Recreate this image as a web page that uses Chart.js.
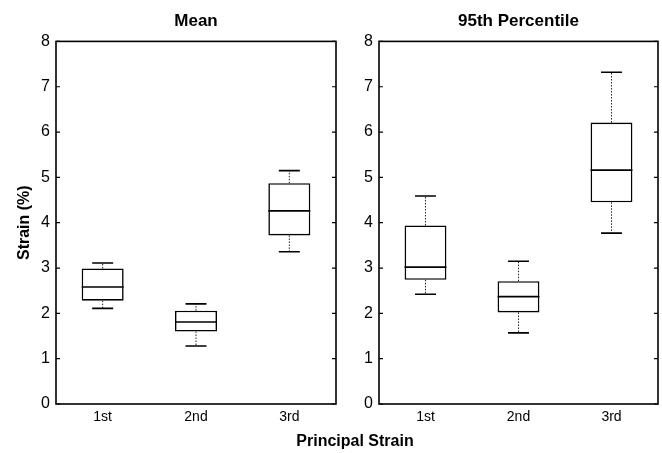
<!DOCTYPE html>
<html>
<head>
<meta charset="utf-8">
<script src="https://cdn.jsdelivr.net/npm/chart.js@4"></script>
<style>
  body { margin: 0; background: #fff; }
  #wrap { position: relative; width: 662px; height: 453px; overflow: hidden; }
  #leftChart { position: absolute; left: 0; top: 0; }
  #rightChart { position: absolute; left: 340px; top: 0; }
  #xTitle {
    position: absolute; left: 255px; width: 200px; top: 432px;
    text-align: center; font: bold 16px "Liberation Sans", Arial, sans-serif; color: #000;
  }
</style>
</head>
<body>
<div id="wrap">
  <canvas id="leftChart" width="340" height="453"></canvas>
  <canvas id="rightChart" width="322" height="453"></canvas>
  <div id="xTitle">Principal Strain</div>
</div>
<script>
const categories = ["1st", "2nd", "3rd"];

// Mean panel (box stats per principal strain)
const meanLow = [2.11, 1.28, 3.36];
const meanQ1 = [2.28, 1.60, 3.72];
const meanMedian = [2.58, 1.81, 4.26];
const meanQ3 = [2.99, 2.06, 4.87];
const meanHigh = [3.11, 2.21, 5.15];

// 95th percentile panel
const pctLow = [2.42, 1.57, 3.77];
const pctQ1 = [2.74, 2.02, 4.45];
const pctMedian = [3.02, 2.37, 5.16];
const pctQ3 = [3.94, 2.71, 6.21];
const pctHigh = [4.59, 3.15, 7.32];

const yMin = 0;
const yMax = 8;

const FONT = "'Liberation Sans', Arial, sans-serif";

// draws median, whiskers, frame and inner ticks using the chart's scales
const boxPlugin = {
  id: "boxExtras",
  afterDatasetsDraw(chart) {
    const ctx = chart.ctx;
    const ds = chart.data.datasets[0];
    const meta = chart.getDatasetMeta(0);
    const x = chart.scales.x;
    const y = chart.scales.y;
    ctx.save();
    ctx.strokeStyle = "#000";
    meta.data.forEach((bar, i) => {
      const cx = x.getPixelForValue(i);
      const half = bar.width / 2;
      const capHalf = half / 2;
      // median
      ctx.setLineDash([]);
      ctx.lineWidth = 1.6;
      ctx.beginPath();
      ctx.moveTo(cx - half, y.getPixelForValue(ds.median[i]));
      ctx.lineTo(cx + half, y.getPixelForValue(ds.median[i]));
      ctx.stroke();
      // whiskers (dotted)
      ctx.lineWidth = 1;
      ctx.strokeStyle = "#222";
      ctx.setLineDash([1.5, 1.5]);
      ctx.beginPath();
      ctx.moveTo(cx, y.getPixelForValue(ds.q3[i]));
      ctx.lineTo(cx, y.getPixelForValue(ds.high[i]));
      ctx.moveTo(cx, y.getPixelForValue(ds.q1[i]));
      ctx.lineTo(cx, y.getPixelForValue(ds.low[i]));
      ctx.stroke();
      // caps
      ctx.strokeStyle = "#000";
      ctx.setLineDash([]);
      ctx.lineWidth = 1.6;
      ctx.beginPath();
      ctx.moveTo(cx - capHalf, y.getPixelForValue(ds.high[i]));
      ctx.lineTo(cx + capHalf, y.getPixelForValue(ds.high[i]));
      ctx.moveTo(cx - capHalf, y.getPixelForValue(ds.low[i]));
      ctx.lineTo(cx + capHalf, y.getPixelForValue(ds.low[i]));
      ctx.stroke();
    });
    // frame
    const a = chart.chartArea;
    ctx.lineWidth = 1.6;
    ctx.strokeRect(a.left, a.top, a.right - a.left, a.bottom - a.top);
    // inner ticks on both sides
    ctx.lineWidth = 1.2;
    ctx.beginPath();
    y.ticks.forEach((t) => {
      const py = y.getPixelForValue(t.value);
      ctx.moveTo(a.left, py);
      ctx.lineTo(a.left + 4, py);
      ctx.moveTo(a.right, py);
      ctx.lineTo(a.right - 4, py);
    });
    ctx.stroke();
    ctx.restore();
  },
};

function makeBoxChart(canvasId, title, low, q1, median, q3, high, yAxisWidth, yTitle) {
  const ctx = document.getElementById(canvasId).getContext("2d");
  return new Chart(ctx, {
    type: "bar",
    data: {
      labels: categories,
      datasets: [
        {
          data: q1.map((v, i) => [v, q3[i]]),
          low: low,
          q1: q1,
          median: median,
          q3: q3,
          high: high,
          backgroundColor: "#fff",
          borderColor: "#000",
          borderWidth: 1.6,
          borderSkipped: false,
          categoryPercentage: 1,
          barPercentage: 0.45,
        },
      ],
    },
    options: {
      responsive: false,
      animation: false,
      devicePixelRatio: 1,
      layout: { padding: { left: 0, right: 4, top: 0, bottom: 0 } },
      plugins: {
        legend: { display: false },
        tooltip: { enabled: false },
        title: {
          display: true,
          text: title,
          fullSize: false,
          color: "#000",
          font: { family: FONT, size: 17, weight: "bold" },
          padding: { top: 11, bottom: 10 },
        },
      },
      scales: {
        x: {
          grid: { display: false, drawTicks: false },
          border: { display: false },
          ticks: { color: "#000", padding: 5, font: { family: FONT, size: 14 } },
          afterFit(scale) {
            scale.height = 49;
          },
        },
        y: {
          min: yMin,
          max: yMax,
          grid: { display: false, drawTicks: false },
          border: { display: false },
          ticks: { stepSize: 1, color: "#000", padding: 6, font: { family: FONT, size: 16 } },
          title: {
            display: !!yTitle,
            text: yTitle,
            color: "#000",
            font: { family: FONT, size: 16, weight: "bold" },
            padding: { top: 15, bottom: 0 },
          },
          afterFit(scale) {
            scale.width = yAxisWidth;
          },
        },
      },
    },
    plugins: [boxPlugin],
  });
}

makeBoxChart("leftChart", "Mean", meanLow, meanQ1, meanMedian, meanQ3, meanHigh, 56, "Strain (%)");
makeBoxChart("rightChart", "95th Percentile", pctLow, pctQ1, pctMedian, pctQ3, pctHigh, 39, "");
</script>
</body>
</html>
